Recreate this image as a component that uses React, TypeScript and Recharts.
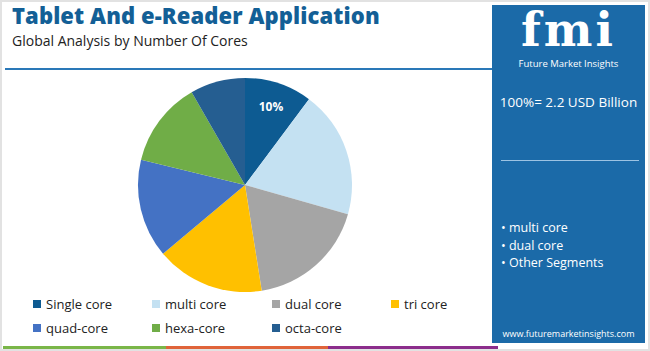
import React from 'react';
import { PieChart, Pie, Cell, Legend } from 'recharts';

const segments = ['Single core', 'multi core', 'dual core', 'tri core', 'quad-core', 'hexa-core', 'octa-core'];
const shares = [10.2, 19.2, 18.1, 16.4, 14.9, 12.9, 8.3];
const colors = ['#0d5b92', '#c4e1f2', '#a5a5a5', '#ffc000', '#4472c4', '#70ad47', '#255e91'];
const shownLabels = ['10%', '', '', '', '', '', ''];
const panelBullets = ['multi core', 'dual core', 'Other Segments'];

const FONT = '"Open Sans", "Noto Sans", sans-serif';

const data = segments.map((name, i) => ({ name, value: shares[i], label: shownLabels[i] }));

const renderLabel = (props: any) => {
  const { cx, cy, midAngle, outerRadius, index } = props;
  const text = shownLabels[index];
  if (!text) return null;
  const RAD = Math.PI / 180;
  const r = outerRadius * 0.77;
  const x = cx + r * Math.cos(-midAngle * RAD);
  const y = cy + r * Math.sin(-midAngle * RAD);
  return (
    <text x={x} y={y + 4} fill="#ffffff" fontSize={12} fontWeight={700} fontFamily={FONT} textAnchor="middle">
      {text}
    </text>
  );
};

const LegendGrid = (props: any) => {
  const items = [...(props.payload || [])].sort(
    (a: any, b: any) => segments.indexOf(a.value) - segments.indexOf(b.value)
  );
  return (
    <div style={{ display: 'grid', gridTemplateColumns: '119px 120px 119px 100px', rowGap: 7 }}>
      {items.map((p: any) => (
        <div key={p.value} style={{ display: 'flex', alignItems: 'center', fontSize: 13, color: '#222', fontFamily: FONT, height: 17 }}>
          <span style={{ width: 8, height: 8, background: p.color, marginRight: 5, display: 'inline-block' }} />
          {p.value}
        </div>
      ))}
    </div>
  );
};

export default function App() {
  return (
    <div style={{ position: 'absolute', left: 0, top: 0, width: 650, height: 351, background: '#ffffff', overflow: 'hidden', fontFamily: FONT }}>
      <div style={{ position: 'absolute', inset: 0, border: '2px solid #e2e2e2', boxSizing: 'border-box' }} />
      <div style={{ position: 'absolute', left: 12, top: 0, fontSize: 22, lineHeight: '31px', fontWeight: 800, color: '#135f96', letterSpacing: 0.1, whiteSpace: 'nowrap' }}>
        Tablet And e-Reader Application
      </div>
      <div style={{ position: 'absolute', left: 12, top: 31, fontSize: 14, lineHeight: '19px', color: '#222', whiteSpace: 'nowrap' }}>
        Global Analysis by Number Of Cores
      </div>
      <div style={{ position: 'absolute', left: 5, top: 68, width: 488, height: 2, background: '#2a78b8' }} />

      <PieChart width={490} height={351} style={{ position: 'absolute', left: 0, top: 0 }}>
        <Pie
          data={data}
          dataKey="value"
          nameKey="name"
          cx={240}
          cy={180}
          outerRadius={107}
          startAngle={90}
          endAngle={-270}
          stroke="none"
          label={renderLabel}
          labelLine={false}
          isAnimationActive={false}
        >
          {data.map((entry, index) => (
            <Cell key={`cell-${index}`} fill={colors[index]} />
          ))}
        </Pie>
        <Legend content={<LegendGrid />} wrapperStyle={{ position: 'absolute', left: 33, top: 295, width: 460 }} />
      </PieChart>

      <div style={{ position: 'absolute', left: 3, top: 346, width: 163, height: 3, background: '#7ab648' }} />
      <div style={{ position: 'absolute', left: 166, top: 346, width: 162, height: 3, background: '#e0643a' }} />
      <div style={{ position: 'absolute', left: 328, top: 346, width: 170, height: 3, background: '#8c2d8c' }} />

      <div style={{ position: 'absolute', left: 492, top: 5, width: 153, height: 338, background: '#1b6aa8', color: '#ffffff' }}>
        <div style={{ position: 'absolute', left: 0, top: -2, width: 153, textAlign: 'center', fontSize: 46, lineHeight: '54px', fontWeight: 800, fontFamily: '"DejaVu Serif", serif', letterSpacing: 3 }}>
          fmi
        </div>
        <div style={{ position: 'absolute', left: 0, top: 52, width: 153, textAlign: 'center', fontSize: 9.5, lineHeight: '13px', whiteSpace: 'nowrap' }}>
          Future Market Insights
        </div>
        <div style={{ position: 'absolute', left: 0, top: 88, width: 153, textAlign: 'center', fontSize: 13.5, whiteSpace: 'nowrap' }}>
          100%= 2.2 USD Billion
        </div>
        <div style={{ position: 'absolute', left: 9, top: 155, width: 138, height: 1, background: '#9cc3e3' }} />
        <div style={{ position: 'absolute', left: 9, top: 214, fontSize: 12.5, lineHeight: '17.5px' }}>
          {panelBullets.map((b) => (
            <div key={b}>{'\u2022 ' + b}</div>
          ))}
        </div>
        <div style={{ position: 'absolute', left: 0, top: 322, width: 153, textAlign: 'center', fontSize: 9, whiteSpace: 'nowrap' }}>
          www.futuremarketinsights.com
        </div>
      </div>
    </div>
  );
}
